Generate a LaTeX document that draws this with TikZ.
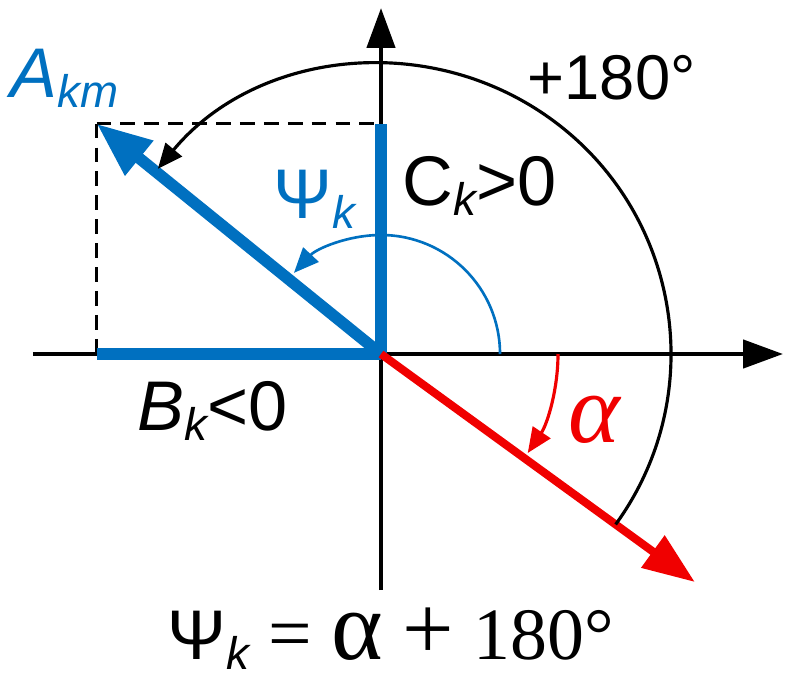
\documentclass[tikz,border=0pt]{standalone}
\usepackage{fontspec}
\setmainfont{Liberation Sans}
\newfontfamily\greekserif{Liberation Serif}
\usetikzlibrary{arrows.meta}
\definecolor{vecblue}{RGB}{0,112,192}
\definecolor{vecred}{RGB}{240,0,0}
\newcommand{\lowk}[1]{\raisebox{-0.1cm}{\fontsize{13}{13}\selectfont\itshape #1}}
\newcommand{\galpha}{{\greekserif\fontsize{28}{28}\selectfont α}}

\begin{document}
\begin{tikzpicture}[
    axis/.style={line width=1.3pt, -{Triangle[length=0.4cm, width=0.28cm]}},
    bluevec/.style={vecblue, line width=3.3pt},
    redvec/.style={vecred, line width=2.3pt, -{Triangle[length=0.52cm, width=0.38cm]}},
    guide/.style={line width=0.75pt, dash pattern=on 4.2pt off 2.6pt},
    anglearc/.style={line width=0.9pt, -{Triangle[length=0.25cm, width=0.21cm]}},
    lbl/.style={font=\fontsize{20}{24}\selectfont, inner sep=0pt, anchor=base west}
  ]
    \useasboundingbox (-3.81,-3.24) rectangle (4.05,3.54);
    \coordinate (O) at (0,0);
    \coordinate (A) at (141:3.66);
    \coordinate (R) at (-36:3.88);
    \coordinate (Ay) at (O |- A);
    \coordinate (Ax) at (O -| A);
    \coordinate (xl) at (-3.48,0);
    \coordinate (xr) at (4.02,0);
    \coordinate (yb) at (0,-2.36);
    \coordinate (yt) at (0,3.46);

    % axes
    \draw[axis] (xl) -- (xr);
    \draw[axis] (yb) -- (yt);

    % projections
    \draw[guide] (A) -- (Ay);
    \draw[guide] (A) -- (Ax);
    \draw[bluevec] (Ax) -- (O);
    \draw[bluevec] (O) -- (Ay);
    \draw[bluevec, -{Triangle[length=0.55cm, width=0.42cm]}] (O) -- (A);
    \draw[redvec] (O) -- (R);

    % angles
    \draw[anglearc] ([shift={(-36:2.9)}]O) arc[start angle=-36, end angle=140.3, radius=2.9];
    \draw[anglearc, vecblue, line width=0.75pt] ([shift={(0:1.19)}]O) arc[start angle=0, end angle=137, radius=1.19];
    \draw[anglearc, vecred] ([shift={(0:1.77)}]O) arc[start angle=0, end angle=-34, radius=1.77];

    \node[lbl, vecblue] (akm) at (-3.71,2.57) {\itshape A\lowk{km}};
    \node[lbl, font=\fontsize{18}{22}\selectfont] (deg) at (1.46,2.54) {+180°};
    \node[lbl] (ck) at (0.21,1.49) {C\lowk{k}>0};
    \node[lbl, vecblue] (psi) at (-1.08,1.36) {Ψ\lowk{k}};
    \node[lbl] (bk) at (-2.44,-0.76) {\textit{B}\lowk{k}<0};
    \node[lbl, vecred] (alpha) at (1.87,-0.88) {\itshape\galpha};
    \node[lbl] (rule) at (-2.14,-3.05) {Ψ\lowk{k}{\greekserif\fontsize{22}{26}\selectfont\ =\ \galpha\ {\fontsize{26}{26}\selectfont +}\ {\fontsize{21}{26}\selectfont 180°}}};
  \end{tikzpicture}
\end{document}
